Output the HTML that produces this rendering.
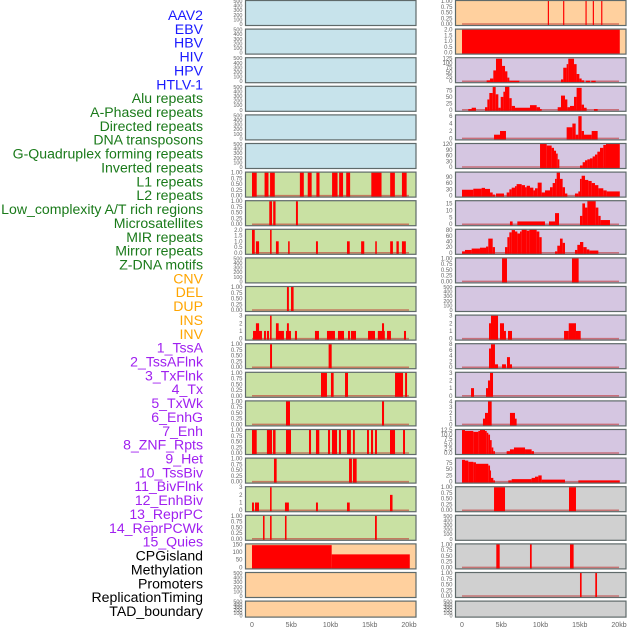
<!DOCTYPE html>
<html><head><meta charset="utf-8"><style>
html,body{margin:0;padding:0;background:#fff;width:630px;height:630px;overflow:hidden}
svg{display:block}
</style></head><body>
<svg id="chart" width="630" height="630" xmlns="http://www.w3.org/2000/svg" font-family="Liberation Sans, sans-serif"></svg>
<script>
// ---- track labels ----
const labelNames = ["AAV2","EBV","HBV","HIV","HPV","HTLV-1","Alu repeats","A-Phased repeats","Directed repeats","DNA transposons","G-Quadruplex forming repeats","Inverted repeats","L1 repeats","L2 repeats","Low_complexity A/T rich regions","Microsatellites","MIR repeats","Mirror repeats","Z-DNA motifs","CNV","DEL","DUP","INS","INV","1_TssA","2_TssAFlnk","3_TxFlnk","4_Tx","5_TxWk","6_EnhG","7_Enh","8_ZNF_Rpts","9_Het","10_TssBiv","11_BivFlnk","12_EnhBiv","13_ReprPC","14_ReprPCWk","15_Quies","CPGisland","Methylation","Promoters","ReplicationTiming","TAD_boundary"];
const labelGroups = [6,13,5,15,5];
const groupColors = ["#1a1aff","#1a7a1a","#ffa500","#a020f0","#000000"];

// ---- tick label sets ----
const ticksEmpty = [0,100,200,300,400,500];
const ticksP01 = [0,0.25,0.5,0.75,1];
const ticks2 = [0,0.5,1,1.5,2];
const ticks3 = [0,1,2,3];
const ticks150 = [0,50,100,150];
const ticks125 = [0,25,50,75,100,125];
const ticks75 = [0,25,50,75];
const ticks6 = [0,2,4,6];
const ticks120 = [0,30,60,90,120];
const ticks90 = [0,30,60,90];
const ticks15 = [0,5,10,15];
const ticks80 = [0,20,40,60,80];
const ticks8 = [0,2,4,6,8];
const ticks4 = [0,1,2,3,4];
const ticks12 = [0,2.5,5,7.5,10,12.5];
const xTickKb = [0,5,10,15,20];
const xTickLabels = ["0","5kb","10kb","15kb","20kb"];

// ---- left column data: [startKb, endKb, value] ----
const L6 = [[0,0.6,1],[1.6,2.1,1],[2.3,2.9,1],[6.1,6.6,1],[7.1,7.6,1],[8.2,8.6,1],[10.2,10.9,1],[11.1,11.6,1],[12.0,12.5,1],[15.2,16.5,1],[17.6,18.2,1],[19.1,19.7,1]];
const L7 = [[2.2,2.55,1],[2.7,3.0,1],[5.6,5.85,1]];
const L8 = [[0,0.35,2],[0.5,0.9,1],[2.3,2.5,2],[3.05,3.4,1],[4.6,4.8,1],[8.15,8.4,1],[12.1,12.45,1],[13.9,14.3,1],[15.7,15.9,1],[17.6,17.95,1],[18.4,18.7,1],[19.1,19.6,1]];
const L10 = [[4.45,4.7,1],[4.97,5.3,1]];
const L11 = [[0.13,1.27,1],[0.5,0.9,2],[1.53,1.78,1],[1.9,2.17,1],[2.3,2.5,3],[3.05,4.07,1],[3.05,3.4,2],[4.33,4.97,1],[4.45,4.7,2],[5.47,5.73,1],[8.02,8.53,1],[9.55,10.57,1],[10.95,11.72,1],[12.23,12.48,1],[12.6,13.25,1],[14.78,15.67,1],[16.03,16.92,1],[16.56,16.82,2],[17.2,17.7,1],[19.36,19.62,1]];
const L12 = [[2.3,2.55,1],[9.76,10.15,1]];
const L13 = [[8.79,9.55,1],[10.06,10.4,1],[11.85,12.23,1],[18.22,19.24,1],[19.5,19.75,1]];
const L14 = [[4.33,4.84,1],[16.56,16.82,1]];
const L15 = [[0,0.6,1],[1.9,2.55,1],[2.68,3.0,1],[4.33,4.97,1],[7.26,7.52,1],[8.15,8.57,1],[9.68,9.94,1],[10.19,10.83,1],[11.08,11.33,1],[12.1,12.6,1],[12.86,13.1,1],[14.65,14.9,1],[15.16,15.42,1],[15.67,15.92,1],[17.58,18.22,1],[19.24,19.49,1]];
const L16 = [[2.8,3.14,1],[12.36,12.73,1],[12.86,13.33,1]];
const L17 = [[0,0.25,1],[0.38,0.89,1],[2.3,2.5,3],[4.2,4.7,1],[8.15,8.4,1],[12.1,12.45,1],[17.58,17.9,2]];
const L18 = [[1.4,1.6,1],[2.3,2.5,1],[4.2,4.4,1],[15.67,15.9,1]];
const L19 = [[0,10.15,145],[10.15,20.1,85]];

// ---- right column data ----
const R0 = [[10.93,11.08,1],[12.88,13.03,1],[15.73,15.88,1],[16.66,16.81,1],[17.73,17.88,1]];
const R1 = [[0,20.1,2]];
const R2 = [[3.14,3.57,5],[3.57,3.99,15],[3.99,4.33,60],[4.33,5.1,125],[5.1,5.48,85],[5.48,5.78,55],[5.78,6.03,20],[6.03,7.3,3],[12.61,12.9,10],[12.9,13.33,75],[13.33,13.54,95],[13.54,14.27,125],[14.27,14.6,95],[14.6,14.95,40],[14.95,15.24,15],[15.24,15.54,5],[15.8,16.3,3],[16.47,17.03,3]];
const R3 = [[0.8,1.78,3],[1.23,1.78,8],[2.93,3.23,10],[3.23,3.48,40],[3.48,3.91,65],[3.91,4.29,88],[4.29,4.63,60],[4.63,4.93,8],[4.93,5.27,50],[5.27,5.48,70],[5.48,6.03,90],[6.03,6.33,45],[6.33,6.75,15],[6.75,8.66,8],[8.66,9.51,18],[9.51,9.94,10],[9.94,10.15,3],[12.19,12.61,10],[12.61,13.12,55],[13.12,13.42,40],[13.42,13.76,10],[13.76,14.27,15],[14.27,14.6,50],[14.6,15.24,85],[15.24,15.54,20],[15.54,15.88,8],[16.81,17.28,3]];
const R4 = [[4.08,4.84,1],[4.84,5.6,2],[13.33,14.06,3],[14.06,14.48,4],[14.48,14.82,1],[14.82,15.24,6],[15.24,15.54,2],[15.54,16.52,1],[16.52,17.28,2]];
const R5 = [[9.94,10.79,120],[10.79,11.42,112],[11.42,11.72,100],[11.72,11.98,85],[11.98,12.19,70],[12.19,12.4,40],[15.03,15.37,8],[15.37,15.67,25],[15.67,15.97,35],[15.97,16.3,40],[16.3,16.64,45],[16.64,16.94,55],[16.94,17.24,65],[17.24,17.58,80],[17.58,18.0,100],[18.0,18.34,115],[18.34,20.1,120]];
const R6 = [[0,1.44,28],[1.44,2.5,33],[2.5,2.93,37],[2.93,3.57,32],[3.57,3.91,15],[3.91,4.2,5],[4.33,5.35,10],[5.69,6.03,15],[6.03,6.33,30],[6.33,6.75,38],[6.75,6.96,45],[6.96,7.6,55],[7.6,8.03,50],[8.03,8.24,40],[8.24,8.66,47],[8.66,9.09,38],[9.09,9.3,25],[9.3,9.64,35],[9.64,10.15,62],[10.15,10.57,15],[10.57,11.21,25],[11.21,11.55,40],[11.55,11.85,60],[11.85,12.06,80],[12.06,12.48,110],[12.48,12.82,80],[12.82,13.12,40],[13.12,13.42,10],[14.39,14.82,10],[14.82,15.03,20],[15.03,15.24,80],[15.24,15.67,95],[15.67,16.09,75],[16.09,16.52,70],[16.52,16.94,60],[16.94,17.37,50],[17.37,18.0,35],[18.0,18.43,25],[18.43,20.1,20]];
const R7 = [[6.11,6.45,2],[7.05,10.57,2],[11.08,11.85,2],[11.85,12.36,8],[15.03,15.33,6],[15.33,15.67,15],[15.67,15.97,12],[15.97,17.03,17],[17.03,17.37,12],[17.37,17.66,6],[17.66,18.85,3]];
const R8 = [[0,0.38,5],[0.38,1.23,10],[1.23,2.29,15],[2.29,3.06,18],[3.06,3.35,22],[3.35,3.91,50],[3.91,4.2,20],[5.48,5.78,20],[5.78,6.03,55],[6.03,6.33,72],[6.33,6.75,80],[6.75,7.05,75],[7.05,7.39,68],[7.39,7.6,75],[7.6,8.24,82],[8.24,8.58,78],[8.58,9.51,82],[9.51,9.85,75],[9.85,10.15,55],[11.85,12.14,5],[12.14,12.48,25],[12.48,12.82,50],[12.82,13.12,35],[14.39,14.69,10],[14.69,15.03,28],[15.03,15.45,38],[15.45,15.88,20],[15.88,16.22,12],[16.22,17.37,8]];
const R9 = [[5.1,5.73,1],[14.01,14.86,1]];
const R11 = [[3.44,3.69,2],[3.69,4.59,3],[4.84,5.35,2],[5.35,5.6,1],[5.86,6.37,1],[13.0,13.6,1],[13.6,14.52,2],[14.52,15.12,1]];
const R12 = [[3.44,3.69,6.5],[3.69,4.2,8],[4.2,4.59,1],[5.1,5.6,1],[5.73,6.11,3.5],[6.11,6.37,1]];
const R13 = [[1.15,1.53,1],[3.06,3.31,1],[3.31,3.57,2],[3.57,3.95,3]];
const R14 = [[2.67,2.93,1],[2.93,3.31,2],[3.31,3.78,4],[6.11,6.75,2],[6.75,6.96,1]];
const R15 = [[0,0.38,12.5],[0.38,1.44,12],[1.44,2.08,11.5],[2.08,2.29,12],[2.29,2.93,12.5],[2.93,3.15,12],[3.15,3.35,11],[3.35,3.57,10],[3.57,3.78,7],[3.78,3.99,3],[3.99,4.2,1],[5.69,6.11,1],[6.11,6.62,2],[6.62,8.03,3],[8.03,8.87,2],[8.87,9.17,1]];
const R16 = [[0,0.38,88],[0.38,0.8,85],[0.8,1.44,80],[1.44,1.78,78],[1.78,3.35,72],[3.35,3.57,65],[3.57,3.69,45],[3.69,3.99,15],[3.99,4.2,5],[5.9,6.33,5],[6.33,8.87,10],[8.87,9.3,15],[9.3,9.72,20],[9.72,10.15,25],[10.15,13.12,8],[14.82,20.1,5]];
const R17 = [[4.08,5.48,1],[13.63,14.52,1]];
const R19 = [[4.37,4.8,1],[8.66,8.88,1],[13.76,14.22,1]];
const R20 = [[15.03,15.24,1],[16.98,17.2,1]];

const BLUE="#c7e3eb", GREEN="#c9e1a3", PURP="#d5c6e1", GRAY="#d0d0d0", ORNG="#ffd09e";
// panels: [bg, ticks, max, data, decimals]
const leftPanels = [
 [BLUE,ticksEmpty,500,null,0],[BLUE,ticksEmpty,500,null,0],[BLUE,ticksEmpty,500,null,0],
 [BLUE,ticksEmpty,500,null,0],[BLUE,ticksEmpty,500,null,0],[BLUE,ticksEmpty,500,null,0],
 [GREEN,ticksP01,1,L6,2],[GREEN,ticksP01,1,L7,2],[GREEN,ticks2,2,L8,1],[GREEN,ticksEmpty,500,null,0],
 [GREEN,ticksP01,1,L10,2],[GREEN,ticks3,3,L11,0],[GREEN,ticksP01,1,L12,2],[GREEN,ticksP01,1,L13,2],
 [GREEN,ticksP01,1,L14,2],[GREEN,ticksP01,1,L15,2],[GREEN,ticksP01,1,L16,2],[GREEN,ticks3,3,L17,0],
 [GREEN,ticksP01,1,L18,2],[ORNG,ticks150,150,L19,0],[ORNG,ticksEmpty,500,null,0],[ORNG,ticksEmpty,500,null,0]];
const rightPanels = [
 [ORNG,ticksP01,1,R0,2],[ORNG,ticks2,2,R1,1],[PURP,ticks125,128,R2,0],[PURP,ticks75,89,R3,0],
 [PURP,ticks6,6.2,R4,0],[PURP,ticks120,120,R5,0],[PURP,ticks90,110,R6,0],[PURP,ticks15,16.6,R7,0],
 [PURP,ticks80,81,R8,0],[PURP,ticksP01,1,R9,2],[PURP,ticksEmpty,500,null,0],[PURP,ticks3,3,R11,0],
 [PURP,ticks8,8,R12,0],[PURP,ticks3,3,R13,0],[PURP,ticks4,4,R14,0],[PURP,ticks12,12.5,R15,1],
 [PURP,ticks75,93,R16,0],[GRAY,ticksP01,1,R17,2],[GRAY,ticksEmpty,500,null,0],[GRAY,ticksP01,1,R19,2],
 [GRAY,ticksP01,1,R20,2],[GRAY,ticksEmpty,500,null,0]];

const NS="http://www.w3.org/2000/svg";
const svg=document.getElementById('chart');
function mk(tag,attrs,parent){const e=document.createElementNS(NS,tag);for(const k in attrs)e.setAttribute(k,attrs[k]);(parent||svg).appendChild(e);return e;}

// labels
let li=0;
labelGroups.forEach((n,g)=>{for(let j=0;j<n;j++){const t=mk('text',{x:203,y:15+li*13.86+5,'text-anchor':'end','font-size':14.1,fill:groupColors[g]});t.textContent=labelNames[li];


li++;}});

function panelGeom(i){return {top:0.5+i*28.6,h:i===21?16:25};}
function drawCol(panels,col){
 const pl=col?455.5:245.5, pw=170.5, x0=col?462:252, sc=7.85;
 const xs=kb=>x0+kb*sc;
 panels.forEach((p,i)=>{
  const {top,h}=panelGeom(i);
  const g=mk('g',{});
  
  
  mk('rect',{x:pl,y:top,width:pw,height:h,fill:p[0]},g);
  const bot=top+h-1.5, ys=v=>bot-(v/p[2])*(bot-top-0.5);
  if(p[3]){
   mk('line',{x1:xs(0),x2:xs(20),y1:bot,y2:bot,stroke:'rgba(190,40,40,0.55)','stroke-width':1.5},g);
   p[3].forEach(s=>{const r=mk('rect',{x:xs(s[0]),y:ys(s[2]),width:Math.max(1,xs(s[1])-xs(s[0])),height:bot+1.5-ys(s[2]),fill:'#ff0000'},g);
    
    });
  }
  mk('rect',{x:pl,y:top,width:pw,height:h,fill:'none',stroke:'#5f6a6a','stroke-width':1.2},g);
  p[1].forEach(v=>{const t=mk('text',{x:pl-3,y:Math.min(ys(v),top+h-1)+2,'text-anchor':'end','font-size':p[3]?6:5.5,fill:'#666'},g);t.textContent=v.toFixed(p[4]);
   
   });
 });
 xTickKb.forEach((k,j)=>{const t=mk('text',{x:xs(k),y:627,'text-anchor':'middle','font-size':7,fill:'#666'});t.textContent=xTickLabels[j];
  
  });
}
drawCol(leftPanels,0);
drawCol(rightPanels,1);
</script>
</body></html>
